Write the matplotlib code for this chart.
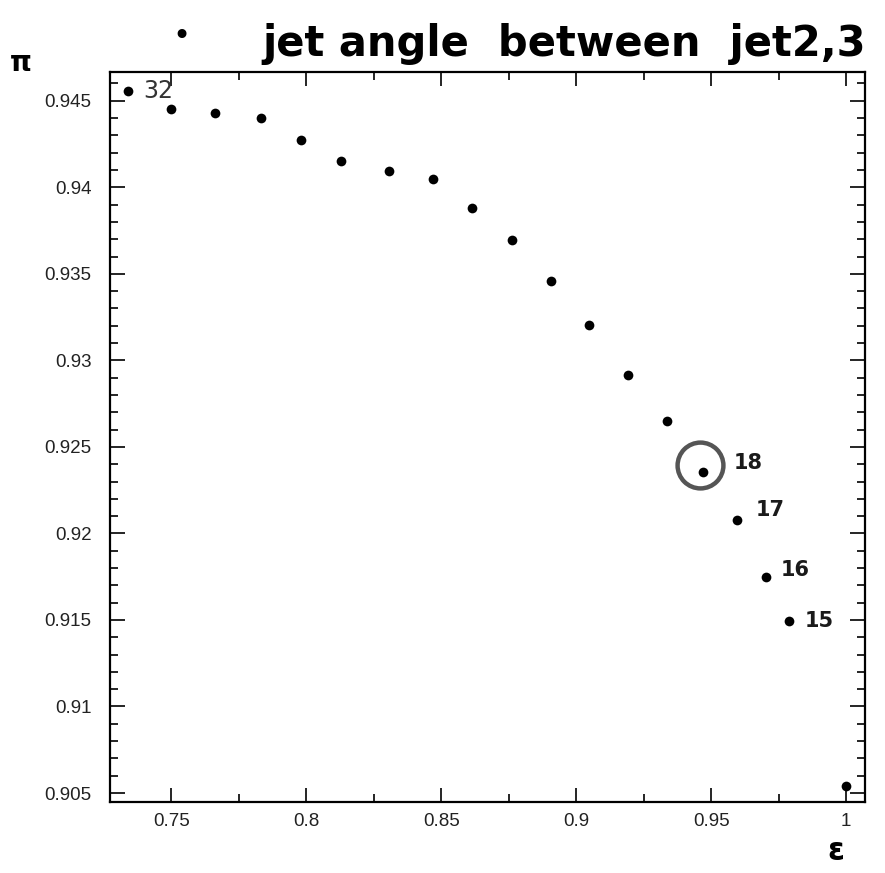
import matplotlib
matplotlib.use("Agg")
import matplotlib.pyplot as plt
from matplotlib.ticker import MultipleLocator, FixedFormatter, FixedLocator
import matplotlib.transforms as mtrans

# efficiency (epsilon) vs purity (pi) for a cut on the angle between jet 2 and jet 3
efficiency = [0.7339, 0.7500, 0.7660, 0.7831, 0.7979, 0.8130, 0.8305, 0.8469,
              0.8614, 0.8761, 0.8908, 0.9047, 0.9192, 0.9337, 0.9471, 0.9597,
              0.9702, 0.9787, 1.0000]
purity = [0.94559, 0.94451, 0.94431, 0.94399, 0.94271, 0.94149, 0.94095, 0.94049,
          0.93882, 0.93697, 0.93457, 0.93203, 0.92915, 0.92650, 0.92356, 0.92079,
          0.91747, 0.91495, 0.90541]

# hand-written cut values next to selected points (index -> label)
cut_labels = {0: "32", 14: "18", 15: "17", 16: "16", 17: "15"}
circled_point = 14

x_ticks = [0.75, 0.8, 0.85, 0.9, 0.95, 1.0]
x_tick_labels = ["0.75", "0.8", "0.85", "0.9", "0.95", "1"]
y_ticks = [0.905, 0.91, 0.915, 0.92, 0.925, 0.93, 0.935, 0.94, 0.945]
y_tick_labels = ["0.905", "0.91", "0.915", "0.92", "0.925", "0.93", "0.935", "0.94", "0.945"]

fig = plt.figure(figsize=(8.85, 8.73), dpi=100)
ax = fig.add_axes([0.124, 0.0813, 0.853, 0.8362])

ax.plot(efficiency, purity, "o", color="black", ms=7, mew=0)

ax.set_xlim(0.72714, 1.00692)
ax.set_ylim(0.90448, 0.94666)

ax.xaxis.set_major_locator(FixedLocator(x_ticks))
ax.xaxis.set_major_formatter(FixedFormatter(x_tick_labels))
ax.xaxis.set_minor_locator(MultipleLocator(0.025))
ax.yaxis.set_major_locator(FixedLocator(y_ticks))
ax.yaxis.set_major_formatter(FixedFormatter(y_tick_labels))
ax.yaxis.set_minor_locator(MultipleLocator(0.001))

for lab in ax.get_xticklabels() + ax.get_yticklabels():
    lab.set_fontfamily("Liberation Sans")
    lab.set_fontsize(13.5)
    lab.set_color("#222222")

ax.tick_params(axis="both", which="both", direction="in", top=True, right=True,
               color="black", width=1.2)
ax.tick_params(axis="y", which="major", length=11, pad=13)
ax.tick_params(axis="y", which="minor", length=6)
ax.tick_params(axis="x", which="major", length=10, pad=8)
ax.tick_params(axis="x", which="minor", length=6)
for sp in ax.spines.values():
    sp.set_linewidth(1.6)
    sp.set_color("black")

# hand-written annotations
offsets = {0: (11, 0), 14: (22, 6), 15: (13, 7), 16: (11, 5), 17: (12, 0)}
for i, txt in cut_labels.items():
    dx, dy = offsets[i]
    if i == 0:
        style = dict(fontsize=17, family="DejaVu Sans", color="#333333")
    else:
        style = dict(fontsize=15, family="DejaVu Sans", fontweight="bold",
                     color="#1a1a1a")
    ax.annotate(txt, (efficiency[i], purity[i]), xytext=(dx, dy),
                textcoords="offset points", ha="left", va="center", **style)

ring_tr = mtrans.offset_copy(ax.transData, fig=fig, x=-2.6, y=5.0, units="points")
ax.plot([efficiency[circled_point]], [purity[circled_point]], "o", ms=33,
        mfc="none", mec="#555555", mew=3.2, transform=ring_tr)

fig.text(262 / 885, 1 - 56 / 873, "jet angle  between  jet2,3", fontsize=30,
         fontweight="semibold", family="DejaVu Sans", ha="left", va="baseline",
         color="black")
fig.text(181 / 885, 1 - 37 / 873, "\u2022", fontsize=22, ha="center", va="center",
         color="black")
fig.text(21 / 885, 1 - 63 / 873, "\u03c0", fontsize=20, fontweight="bold",
         ha="center", va="center", color="black")
fig.text(836 / 885, 1 - 852 / 873, "\u03b5", fontsize=22, fontweight="bold",
         ha="center", va="center", color="black")

fig.savefig("out.png", dpi=100)
